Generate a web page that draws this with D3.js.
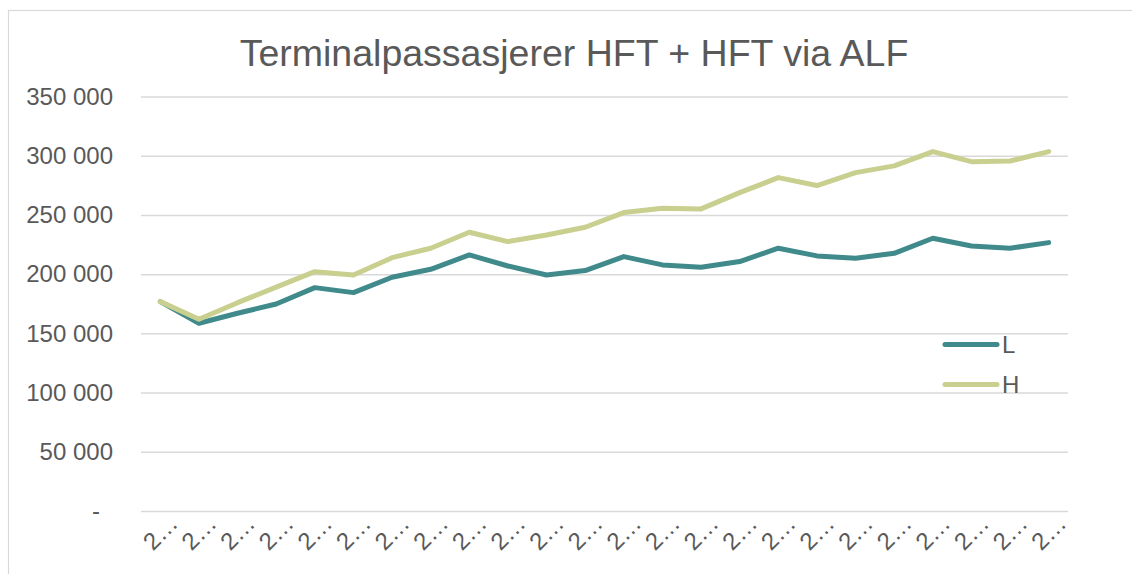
<!DOCTYPE html>
<html>
<head>
<meta charset="utf-8">
<script src="https://cdn.jsdelivr.net/npm/d3@7"></script>
<style>
  html, body { margin: 0; padding: 0; background: #fff; }
  svg { display: block; font-family: "Liberation Sans", Arial, sans-serif; }
</style>
</head>
<body>
<div id="chart"></div>
<script>
// --- data ---
const tickLabels = ["2…", "2…", "2…", "2…", "2…", "2…", "2…", "2…", "2…", "2…", "2…", "2…",
                    "2…", "2…", "2…", "2…", "2…", "2…", "2…", "2…", "2…", "2…", "2…", "2…"];
const seriesNames = ["L", "H"];
const valuesL = [176800, 158500, 167000, 174800, 188600, 184400, 197400, 204100, 216200, 206900, 199300, 203000,
                 214800, 207800, 205800, 210600, 221900, 215400, 213400, 217600, 230300, 223800, 221900, 226600];
const valuesH = [176800, 161900, 175900, 189000, 202100, 199300, 213900, 221900, 235400, 227500, 233100, 239600,
                 252000, 255600, 255100, 268800, 281500, 274800, 285700, 291400, 303500, 295000, 295500, 303500];
const yTicks = [0, 50000, 100000, 150000, 200000, 250000, 300000, 350000];
const titleText = "Terminalpassasjerer HFT + HFT via ALF";

const W = 1132, H = 574;
const colors = { L: "#418a8c", H: "#c9cf8f" };
const textColor = "#595959";
const gridColor = "#d9d9d9";

const svg = d3.select("#chart").append("svg")
  .attr("width", W)
  .attr("height", H);

// chart frame (runs off the right and bottom of the shot)
svg.append("rect")
  .attr("x", 8.5).attr("y", 10.5)
  .attr("width", W + 20).attr("height", H + 20)
  .attr("fill", "#fff")
  .attr("stroke", gridColor)
  .attr("stroke-width", 1.2);

svg.append("text")
  .attr("x", 574).attr("y", 66)
  .attr("text-anchor", "middle")
  .attr("font-size", 37.5)
  .attr("fill", textColor)
  .text(titleText);

const x = d3.scaleBand()
  .domain(d3.range(tickLabels.length))
  .range([141, 1068]);

const y = d3.scaleLinear()
  .domain([0, 350000])
  .range([511, 96.5]);

const locale = d3.formatLocale({ decimal: ",", thousands: " ", grouping: [3], currency: ["", ""] });
const fmt = locale.format(",.0f");

// y axis: grid lines + labels
const yAxis = d3.axisLeft(y)
  .tickValues(yTicks)
  .tickSize(-(1068 - 141))
  .tickPadding(28)
  .tickFormat(d => d === 0 ? "-" : fmt(d));

const gy = svg.append("g")
  .attr("transform", "translate(141,0)")
  .call(yAxis);
gy.select(".domain").remove();
gy.selectAll(".tick line")
  .attr("stroke", gridColor)
  .attr("stroke-width", 1.5);
gy.selectAll(".tick text")
  .attr("font-size", 24)
  .attr("fill", textColor)
  .attr("font-family", "Liberation Sans, Arial, sans-serif")
  .attr("x", d => d === 0 ? -41 : -28);

// x axis labels (truncated, rotated)
const gx = svg.append("g");
gx.selectAll("text")
  .data(tickLabels)
  .join("text")
  .attr("transform", (d, i) => `translate(${x(i) + x.bandwidth() / 2 + 19},525) rotate(-45)`)
  .attr("text-anchor", "end")
  .attr("font-size", 24)
  .attr("fill", textColor)
  .text(d => d);

// lines
const line = d3.line()
  .x((d, i) => x(i) + x.bandwidth() / 2)
  .y(d => y(d));

const series = [
  { name: seriesNames[0], values: valuesL },
  { name: seriesNames[1], values: valuesH }
];

// L first, H on top (H covers L at the shared first point)
series.forEach(s => {
  svg.append("path")
    .datum(s.values)
    .attr("d", line)
    .attr("fill", "none")
    .attr("stroke", colors[s.name])
    .attr("stroke-width", 5)
    .attr("stroke-linejoin", "round")
    .attr("stroke-linecap", "round");
});

// legend
const legend = svg.append("g");
series.forEach((s, i) => {
  const ly = 344.5 + i * 40;
  legend.append("line")
    .attr("x1", 945).attr("x2", 997)
    .attr("y1", ly).attr("y2", ly)
    .attr("stroke", colors[s.name])
    .attr("stroke-width", 5)
    .attr("stroke-linecap", "round");
  legend.append("text")
    .attr("x", 1002).attr("y", ly + 8.5)
    .attr("font-size", 24)
    .attr("fill", textColor)
    .text(s.name);
});
</script>
</body>
</html>
